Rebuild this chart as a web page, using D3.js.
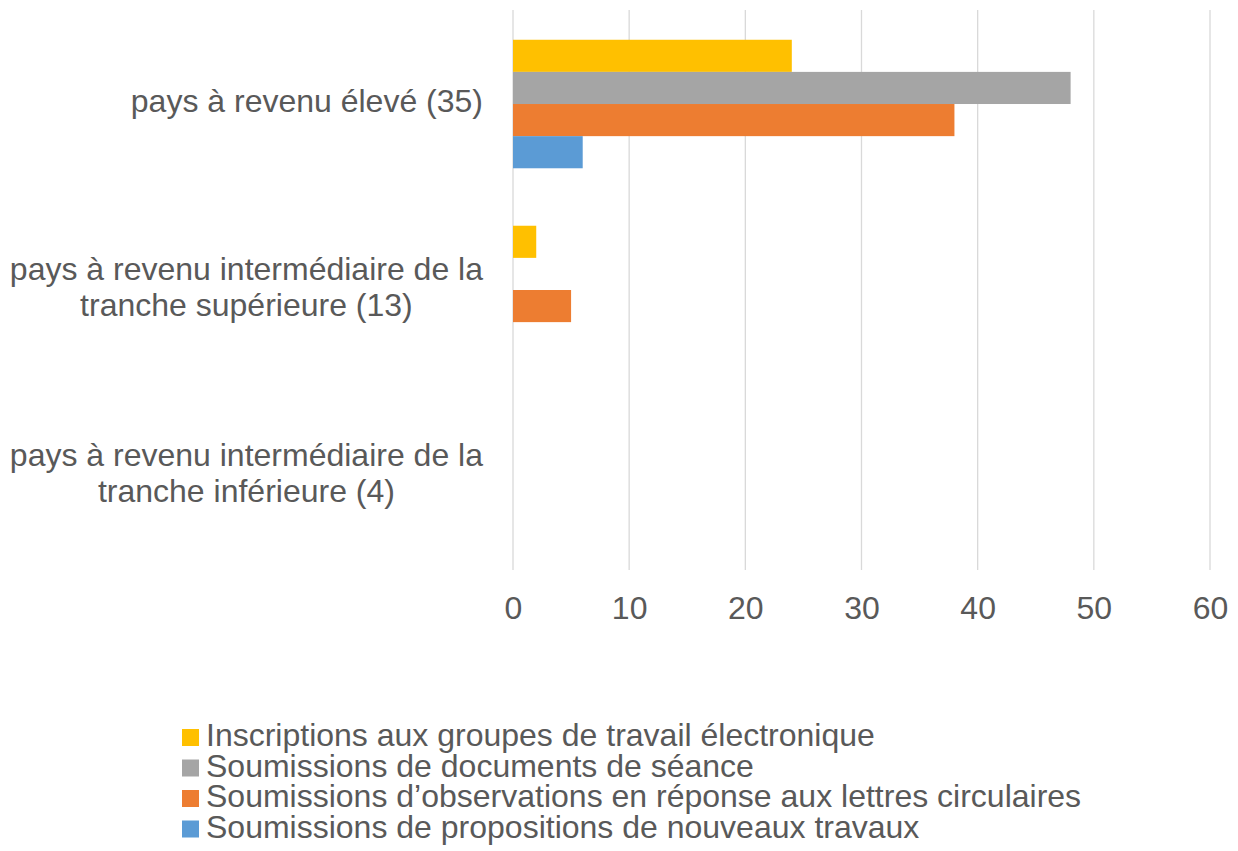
<!DOCTYPE html>
<html><head><meta charset="utf-8">
<script src="https://cdn.jsdelivr.net/npm/d3@7"></script>
<style>
html,body{margin:0;padding:0;background:#fff;}
text{font-family:"Liberation Sans",Arial,sans-serif;fill:#595959;}
</style></head>
<body>
<svg id="chart" width="1238" height="851"></svg>
<script>
const categories = [
  ["pays à revenu élevé (35)"],
  ["pays à revenu intermédiaire de la", "tranche supérieure (13)"],
  ["pays à revenu intermédiaire de la", "tranche inférieure (4)"]
];
const seriesNames = [
  "Inscriptions aux groupes de travail électronique",
  "Soumissions de documents de séance",
  "Soumissions d’observations en réponse aux lettres circulaires",
  "Soumissions de propositions de nouveaux travaux"
];
const seriesColors = ["#FFC000", "#A5A5A5", "#ED7D31", "#5B9BD5"];
const inscriptions = [24, 2, 0];
const documents = [48, 0, 0];
const observations = [38, 5, 0];
const propositions = [6, 0, 0];
const xTicks = [0, 10, 20, 30, 40, 50, 60];

const seriesValues = [inscriptions, documents, observations, propositions];
const svg = d3.select("#chart");
const FS = 32;

const x = d3.scaleLinear().domain([0, 60]).range([513, 1210]);
const catKeys = categories.map((c, i) => i);
const y0 = d3.scaleBand().domain(catKeys).range([10, 570]).paddingInner(0.309).paddingOuter(0.16);
const y1 = d3.scaleBand().domain(d3.range(seriesNames.length)).range([0, y0.bandwidth()]);

// gridlines
svg.append("g").selectAll("line").data(xTicks).join("line")
  .attr("x1", d => x(d)).attr("x2", d => x(d))
  .attr("y1", 10).attr("y2", 570)
  .attr("stroke", "#D9D9D9").attr("stroke-width", 1.3);

// bars
const groups = svg.append("g").selectAll("g").data(catKeys).join("g")
  .attr("transform", d => `translate(0,${y0(d)})`);
groups.selectAll("rect").data(ci => seriesValues.map((vals, si) => ({si, v: vals[ci]})))
  .join("rect")
  .attr("x", x(0)).attr("y", d => y1(d.si))
  .attr("width", d => x(d.v) - x(0))
  .attr("height", y1.bandwidth())
  .attr("fill", d => seriesColors[d.si]);

// x axis labels
const xAxis = d3.axisBottom(x).tickValues(xTicks).tickSize(0).tickPadding(0);
const gx = svg.append("g").attr("transform", "translate(0,596)").call(xAxis);
gx.select(".domain").remove();
gx.selectAll("text").style("font-size", FS + "px").style("font-family", null).attr("fill", "#595959");

// category labels
const lbl = svg.append("g");
categories.forEach((lines, ci) => {
  const cy = y0(ci) + y0.bandwidth() / 2;
  const n = lines.length;
  const t = lbl.append("text").style("font-size", FS + "px");
  const tsp = lines.map((ln, li) => t.append("tspan").text(ln)
    .attr("y", cy + (li - (n - 1) / 2) * 36 + 8));
  const widths = tsp.map(s => s.node().getComputedTextLength());
  const wmax = d3.max(widths);
  const cx = 483 - wmax / 2;
  tsp.forEach(s => s.attr("x", cx).attr("text-anchor", "middle"));
});

// legend
const leg = svg.append("g");
seriesNames.forEach((name, i) => {
  const by = 746 + i * 30.5;
  leg.append("rect").attr("x", 182).attr("y", by - 17).attr("width", 17).attr("height", 17).attr("fill", seriesColors[i]);
  leg.append("text").attr("x", 206).attr("y", by).style("font-size", FS + "px").text(name);
});
</script>
</body></html>
